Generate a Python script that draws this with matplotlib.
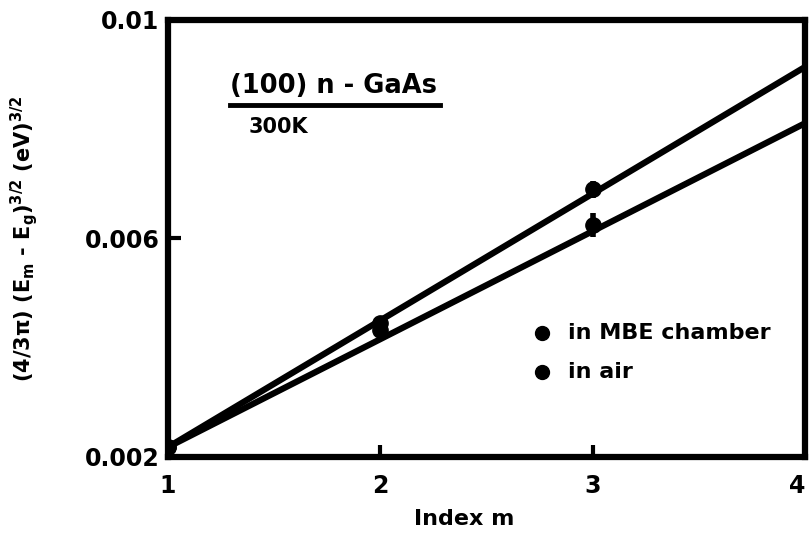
import matplotlib
matplotlib.use("Agg")
import matplotlib.pyplot as plt

# Data
m_points = [1, 2, 3]
mbe_points = [0.00218, 0.00445, 0.00690]
air_points = [0.00218, 0.00432, 0.00625]
mbe_err = [0.00008, 0.00010, 0.00015]
air_err = [0.00008, 0.00010, 0.00022]

fit_m = [1, 4]
mbe_fit = [0.00218, 0.00914]
air_fit = [0.00218, 0.00811]

x_ticks = [1, 2, 3, 4]
x_ticklabels = ["1", "2", "3", "4"]
y_ticks = [0.002, 0.006, 0.01]
y_ticklabels = ["0.002", "0.006", "0.01"]

plt.rcParams['font.family'] = ['DejaVu Sans']
plt.rcParams['mathtext.default'] = 'bf'

fig = plt.figure(figsize=(8.11, 5.33), dpi=100)
ax = fig.add_axes([0.207, 0.1426, 0.7856, 0.8199])

lw = 4.5
ax.plot(fit_m, mbe_fit, color='black', lw=lw, solid_capstyle='round')
ax.plot(fit_m, air_fit, color='black', lw=lw, solid_capstyle='round')
ax.errorbar(m_points, mbe_points, yerr=mbe_err, fmt='o', color='black',
            ms=11, elinewidth=4, capsize=0)
ax.errorbar(m_points, air_points, yerr=air_err, fmt='o', color='black',
            ms=11, elinewidth=4, capsize=0)

ax.set_xlim(1, 4)
ax.set_ylim(0.002, 0.01)
ax.set_xticks(x_ticks)
ax.set_xticklabels(x_ticklabels)
ax.set_yticks(y_ticks)
ax.set_yticklabels(y_ticklabels)
ax.tick_params(direction='in', length=9, width=3, labelsize=17)
ax.tick_params(axis='x', pad=12)
ax.tick_params(axis='y', pad=6)
for lab in ax.get_xticklabels() + ax.get_yticklabels():
    lab.set_fontweight('bold')
ax.get_xticklabels()[-1].set_horizontalalignment('right')
for s in ax.spines.values():
    s.set_linewidth(4.5)

ax.set_xlabel('Index m', fontsize=16, fontweight='bold')
ax.xaxis.set_label_coords(0.465, -0.118)
ax.set_ylabel(r'(4/3$\pi$) (E$_m$ - E$_g$)$^{3/2}$ (eV)$^{3/2}$', fontsize=15,
              fontweight='bold')
ax.yaxis.set_label_coords(-0.2, 0.5)

# Annotation
ax.text(0.097, 0.849, '(100) n - GaAs', transform=ax.transAxes, fontsize=18.5,
        fontweight='bold', va='center')
ax.plot([0.097, 0.427], [0.805, 0.805], transform=ax.transAxes, color='black', lw=3.5)
ax.text(0.127, 0.755, '300K', transform=ax.transAxes, fontsize=15,
        fontweight='bold', va='center')

# Legend
ax.plot([0.587], [0.284], 'o', color='black', ms=10, transform=ax.transAxes)
ax.text(0.628, 0.284, 'in MBE chamber', transform=ax.transAxes, fontsize=16,
        fontweight='bold', va='center')
ax.plot([0.587], [0.195], 'o', color='black', ms=10, transform=ax.transAxes)
ax.text(0.628, 0.195, 'in air', transform=ax.transAxes, fontsize=16,
        fontweight='bold', va='center')

fig.savefig('out.png', dpi=100)
